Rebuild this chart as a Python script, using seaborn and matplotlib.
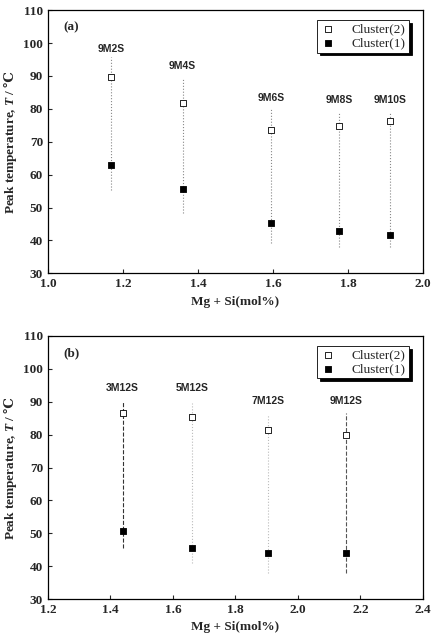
import matplotlib.pyplot as plt
import numpy as np
import pandas as pd
import seaborn as sns

# panel (a): Mg varied at 9, Si varied
a_names = ["9M2S", "9M4S", "9M6S", "9M8S", "9M10S"]
a_x = [1.169, 1.359, 1.594, 1.776, 1.912]
a_c2 = [89.6, 81.7, 73.6, 74.7, 76.2]
a_c1 = [63.0, 55.6, 45.2, 42.8, 41.6]
a_top = [95.9, 89.1, 80.0, 79.0, 79.0]
a_bot = [55.3, 48.2, 39.1, 38.1, 38.1]
a_lab = [98.2, 92.9, 83.2, 82.8, 82.8]

# panel (b): Si fixed at 12, Mg varied
b_names = ["3M12S", "5M12S", "7M12S", "9M12S"]
b_x = [1.439, 1.661, 1.903, 2.154]
b_c2 = [86.7, 85.3, 81.5, 79.9]
b_c1 = [50.8, 45.4, 43.9, 43.9]
b_top = [90.2, 89.5, 86.4, 86.7]
b_bot = [45.5, 41.0, 37.9, 37.9]
b_lab = [94.1, 94.1, 90.3, 90.3]

sns.set_style("ticks")
plt.rcParams["font.family"] = ["Liberation Serif", "DejaVu Serif"]
plt.rcParams["mathtext.fontset"] = "custom"
plt.rcParams["mathtext.it"] = "Liberation Serif:italic:bold"
plt.rcParams["mathtext.rm"] = "DejaVu Serif:bold"


def draw_panel(ax, names, x, c2, c1, top, bot, lab, xlim, tag, line_cols, line_styles):
    df = pd.DataFrame({"x": x + x, "T": c2 + c1,
                       "cluster": ["Cluster(2)"] * len(x) + ["Cluster(1)"] * len(x)})
    for i in range(len(x)):
        ax.vlines(x[i], bot[i], top[i], colors=line_cols[i], linestyles=line_styles[i], lw=0.8, zorder=1)
        ax.text(x[i], lab[i], names[i], ha="center", va="center", fontsize=7.5,
                fontweight="bold", family=["Liberation Sans", "DejaVu Sans"])
    sns.scatterplot(data=df[df["cluster"] == "Cluster(2)"], x="x", y="T", marker="s", s=16,
                    facecolor="white", edgecolor="black", linewidth=0.6, label="Cluster(2)", ax=ax, zorder=3)
    sns.scatterplot(data=df[df["cluster"] == "Cluster(1)"], x="x", y="T", marker="s", s=16,
                    color="black", edgecolor="black", linewidth=0.6, label="Cluster(1)", ax=ax, zorder=3)
    ax.set_xlim(*xlim)
    ax.set_ylim(30, 110)
    ticks = np.arange(xlim[0], xlim[1] + 0.01, 0.2)
    ax.set_xticks(ticks)
    ax.set_xticklabels([f"{v:.1f}" for v in ticks])
    ax.set_yticks(np.arange(30, 111, 10))
    ax.tick_params(direction="in", length=3, width=0.8, labelsize=9.5)
    for lbl in ax.get_xticklabels() + ax.get_yticklabels():
        lbl.set_fontweight("bold")
    for sp in ax.spines.values():
        sp.set_visible(True)
        sp.set_linewidth(0.9)
        sp.set_color("black")
    ax.set_xlabel("Mg + Si(mol%)", fontsize=9.5, fontweight="bold", labelpad=4)
    ax.set_ylabel("Peak temperature, $T$ / $\\mathrm{℃}$", fontsize=9.5, fontweight="bold", labelpad=3)
    ax.text(0.063, 0.935, tag, transform=ax.transAxes, fontsize=9.5, fontweight="bold", ha="center", va="center")
    leg = ax.legend(loc="upper right", bbox_to_anchor=(0.963, 0.962), borderaxespad=0, fancybox=False,
                    shadow={"color": "black", "alpha": 1}, edgecolor="black", framealpha=1,
                    fontsize=9.5, handletextpad=1.2, borderpad=0.25, labelspacing=0.1, handlelength=1.2)
    leg.get_frame().set_linewidth(0.6)


fig = plt.figure(figsize=(4.32, 6.4), dpi=100)
ax1 = fig.add_axes([0.111, 0.573, 0.868, 0.411])
ax2 = fig.add_axes([0.111, 0.064, 0.868, 0.411])

draw_panel(ax1, a_names, a_x, a_c2, a_c1, a_top, a_bot, a_lab, (1.0, 2.0), "(a)",
           ["#888888"] * 5, [":"] * 5)
draw_panel(ax2, b_names, b_x, b_c2, b_c1, b_top, b_bot, b_lab, (1.2, 2.4), "(b)",
           ["#333333", "#bbbbbb", "#bbbbbb", "#555555"], ["--", ":", ":", "--"])

fig.savefig("out.png", dpi=100)
